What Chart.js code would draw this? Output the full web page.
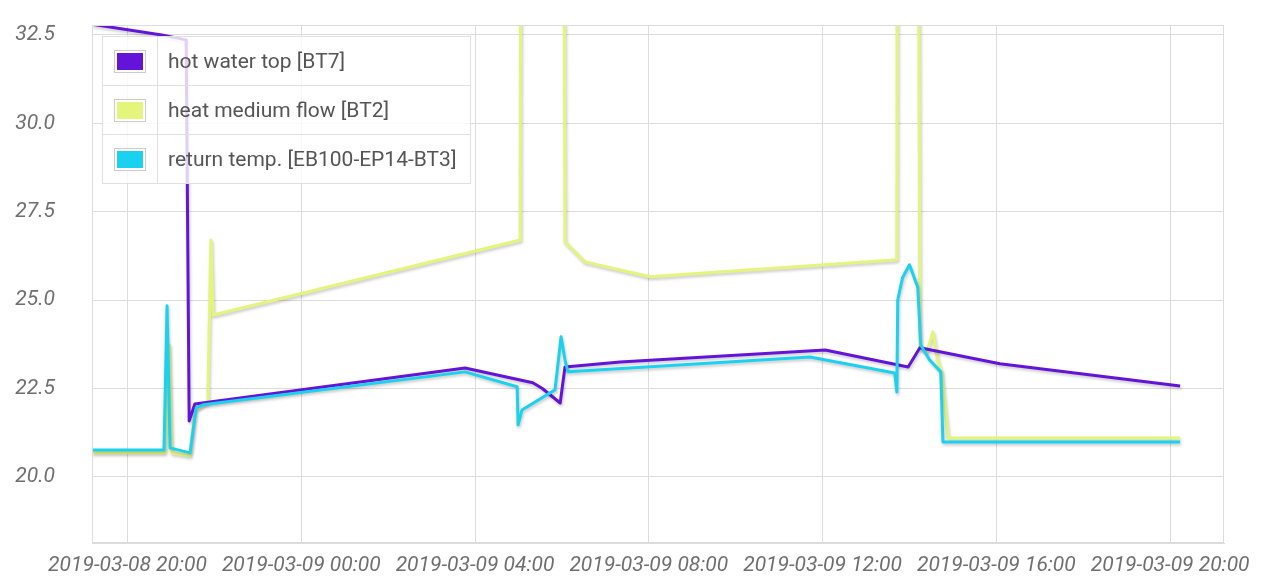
<!DOCTYPE html>
<html>
<head>
<meta charset="utf-8">
<script src="https://cdn.jsdelivr.net/npm/chart.js@4/dist/chart.umd.min.js"></script>
<style>
  html, body { margin: 0; padding: 0; background: #fff; }
  #wrap { position: relative; width: 1280px; height: 581px; }
  #legend {
    position: absolute; left: 102px; top: 36px;
    border-collapse: collapse; background: rgba(255, 255, 255, 0.8);
    font: 21px Roboto, sans-serif; color: #555;
  }
  #legend td { border: 1px solid #e0e0e0; height: 48px; padding: 0; }
  #legend td.sw { width: 54px; text-align: center; }
  #legend td.txt { width: 292px; padding-left: 10px; padding-right: 10px; }
  #legend span {
    display: inline-block; width: 30px; height: 21px;
    border: 1px solid #ccc; box-shadow: inset 0 0 0 2px #fff;
    vertical-align: middle;
  }
</style>
</head>
<body>
<div id="wrap">
  <canvas id="myChart" width="1280" height="581"></canvas>
  <table id="legend"></table>
</div>
<script>
// hours counted from 2019-03-08 00:00
const xTickHours = [20, 24, 28, 32, 36, 40, 44];
const xTickLabels = [
  "2019-03-08 20:00", "2019-03-09 00:00", "2019-03-09 04:00", "2019-03-09 08:00",
  "2019-03-09 12:00", "2019-03-09 16:00", "2019-03-09 20:00",
];
const yTicks = [20, 22.5, 25, 27.5, 30, 32.5];

const seriesNames = ["hot water top [BT7]", "heat medium flow [BT2]", "return temp. [EB100-EP14-BT3]"];
const seriesColors = ["#6414d8", "#e4f57c", "#1ad2ef"];

const hotWaterHours = [19.18, 20.79, 21.35, 21.42, 21.55, 27.77, 29.33, 29.55, 29.96, 30.07, 31.34, 36.06, 37.97, 38.24, 40.08, 44.23];
const hotWaterTemps = [32.8, 32.5, 32.36, 21.58, 22.06, 23.08, 22.66, 22.5, 22.09, 23.11, 23.25, 23.59, 23.11, 23.65, 23.2, 22.57];

const flowHours = [19.18, 20.86, 20.96, 21.02, 21.44, 21.55, 21.85, 21.92, 21.97, 29.04, 29.06, 30.03, 30.07, 30.53, 32.03, 37.71, 37.73, 38.19, 38.24, 38.4, 38.54, 38.65, 38.74, 38.89, 44.23];
const flowTemps = [20.68, 20.68, 23.73, 20.68, 20.6, 21.9, 22.12, 26.7, 24.58, 26.7, 45, 45, 26.65, 26.08, 25.66, 26.14, 45, 45, 23.65, 23.53, 24.1, 23.3, 22.97, 21.1, 21.1];

const returnHours = [19.18, 20.84, 20.91, 20.98, 21.44, 21.58, 21.74, 27.77, 28.97, 28.99, 29.08, 29.84, 29.98, 30.07, 30.14, 35.71, 37.66, 37.71, 37.73, 37.84, 38.0, 38.19, 38.26, 38.46, 38.72, 38.77, 44.23];
const returnTemps = [20.76, 20.76, 24.84, 20.82, 20.68, 21.95, 22.04, 22.97, 22.55, 21.47, 21.89, 22.46, 23.96, 23.31, 22.97, 23.39, 22.94, 22.4, 25.01, 25.63, 26.0, 25.37, 23.73, 23.31, 22.97, 20.99, 20.99];

const toPoints = (hours, temps) => hours.map((h, i) => ({ x: h, y: temps[i] }));

// legend as a small table over the plot
const legend = document.getElementById("legend");
seriesNames.forEach((name, i) => {
  const tr = document.createElement("tr");
  tr.innerHTML = `<td class="sw"><span style="background:${seriesColors[i]}"></span></td><td class="txt">${name}</td>`;
  legend.appendChild(tr);
});

const frame = {
  id: "frame",
  afterDraw(chart) {
    const { ctx, chartArea: a } = chart;
    ctx.save();
    ctx.strokeStyle = "#dcdcdc";
    ctx.lineWidth = 1;
    ctx.strokeRect(a.left + 0.5, a.top + 0.5, a.right - a.left - 1, a.bottom - a.top - 1);
    ctx.restore();
  },
};
const shadow = {
  id: "shadow",
  beforeDatasetDraw(chart) {
    const ctx = chart.ctx;
    ctx.save();
    ctx.shadowColor = "rgba(0, 0, 0, 0.22)";
    ctx.shadowBlur = 3;
    ctx.shadowOffsetX = 1;
    ctx.shadowOffsetY = 2;
  },
  afterDatasetDraw(chart) {
    chart.ctx.restore();
  },
};

const lineStyle = (i, order) => ({
  label: seriesNames[i],
  borderColor: seriesColors[i],
  backgroundColor: seriesColors[i],
  borderWidth: 3,
  borderJoinStyle: "round",
  pointRadius: 0,
  fill: false,
  tension: 0,
  order: order,
});

const tickFont = { family: "Roboto", size: 21, style: "italic" };

const ctx = document.getElementById("myChart").getContext("2d");
const myChart = new Chart(ctx, {
  type: "line",
  data: {
    datasets: [
      { ...lineStyle(0, 1), data: toPoints(hotWaterHours, hotWaterTemps) },
      { ...lineStyle(1, 2), data: toPoints(flowHours, flowTemps) },
      { ...lineStyle(2, 0), data: toPoints(returnHours, returnTemps) },
    ],
  },
  plugins: [shadow, frame],
  options: {
    responsive: false,
    animation: false,
    devicePixelRatio: 1,
    layout: { padding: { top: 25, right: 56, left: 0, bottom: 0 } },
    plugins: { legend: { display: false }, tooltip: { enabled: false } },
    scales: {
      x: {
        type: "linear",
        bounds: "data",
        min: 19.183,
        max: 45.24,
        afterBuildTicks: (s) => (s.ticks = xTickHours.map((v) => ({ value: v }))),
        afterFit: (s) => (s.height = 38),
        ticks: {
          autoSkip: false,
          maxRotation: 0,
          padding: 10,
          color: "#6f6f6f",
          font: tickFont,
          callback: (v) => xTickLabels[xTickHours.indexOf(v)],
        },
        grid: { color: "#dcdcdc", drawTicks: false },
        border: { color: "#dcdcdc" },
      },
      y: {
        type: "linear",
        bounds: "data",
        min: 18.13,
        max: 32.78,
        afterBuildTicks: (s) => (s.ticks = yTicks.map((v) => ({ value: v }))),
        afterFit: (s) => {
          s.width = 92;
          s.paddingTop = 0;
          s.paddingBottom = 0;
        },
        ticks: {
          padding: 37,
          color: "#6f6f6f",
          font: tickFont,
          callback: (v) => v.toFixed(1),
        },
        grid: { color: "#dcdcdc", drawTicks: false },
        border: { color: "#dcdcdc" },
      },
    },
  },
});
</script>
</body>
</html>
